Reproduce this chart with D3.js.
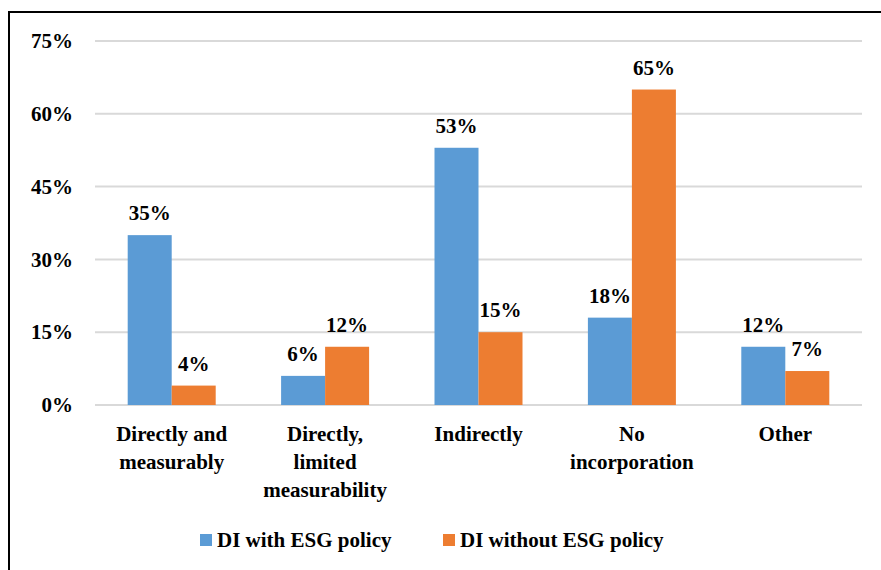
<!DOCTYPE html>
<html><head><meta charset="utf-8">
<script src="https://cdn.jsdelivr.net/npm/d3@7"></script>
</head><body style="margin:0">
<svg id="c" width="881" height="570" style="display:block;font-family:'Liberation Serif';font-weight:bold;font-size:21px"></svg>
<script>
const categories = [["Directly and","measurably"],["Directly,","limited","measurability"],["Indirectly"],["No","incorporation"],["Other"]];
const seriesNames = ["DI with ESG policy","DI without ESG policy"];
const withPolicy = [35, 6, 53, 18, 12];
const withoutPolicy = [4, 12, 15, 65, 7];
const yTicks = [0, 15, 30, 45, 60, 75];
const colors = ["#5B9BD5", "#ED7D31"];

(function () {
const svg = d3.select("#c");
function styleText(sel) {
  return sel.style("font-family", "'Liberation Serif'").style("font-weight", "bold").style("font-size", "21px").attr("fill", "#000");
}
svg.append("rect").attr("x", 9).attr("y", 12).attr("width", 900).attr("height", 600)
  .attr("fill", "#fff").attr("stroke", "#000").attr("stroke-width", 2);

const pLeft = 95, pRight = 862, pTop = 41, pBottom = 405;
const x = d3.scaleBand().domain(d3.range(categories.length)).range([pLeft, pRight]).padding(0);
const y = d3.scaleLinear().domain([0, 75]).range([pBottom, pTop]);
const barW = 44;

svg.append("g").selectAll("line").data(yTicks).join("line")
  .attr("x1", pLeft).attr("x2", pRight).attr("y1", d => y(d)).attr("y2", d => y(d))
  .attr("stroke", "#d9d9d9").attr("stroke-width", 2);

const yAxis = d3.axisLeft(y).tickValues(yTicks).tickFormat(d => d + "%").tickSize(0).tickPadding(22);
const ya = svg.append("g").attr("transform", `translate(${pLeft},0)`).call(yAxis);
ya.attr("font-family", null).attr("font-size", null);
ya.select(".domain").remove();
styleText(ya.selectAll("text"));

const series = [withPolicy, withoutPolicy];
series.forEach((vals, si) => {
  const g = svg.append("g");
  g.selectAll("rect").data(vals).join("rect")
    .attr("x", (d, i) => x(i) + x.bandwidth() / 2 - barW + si * barW)
    .attr("width", barW)
    .attr("y", d => y(d)).attr("height", d => y(0) - y(d))
    .attr("fill", colors[si]);
  styleText(g.selectAll("text").data(vals).join("text"))
    .attr("x", (d, i) => x(i) + x.bandwidth() / 2 - barW / 2 + si * barW)
    .attr("y", d => y(d) - 15)
    .attr("text-anchor", "middle")
    .text(d => d + "%");
});

const cg = svg.append("g");
categories.forEach((lines, i) => {
  const t = styleText(cg.append("text")).attr("text-anchor", "middle");
  lines.forEach((ln, k) => {
    t.append("tspan").attr("x", x(i) + x.bandwidth() / 2).attr("y", 441 + k * 28).text(ln);
  });
});

const legendX = [200, 443];
seriesNames.forEach((n, i) => {
  svg.append("rect").attr("x", legendX[i]).attr("y", 534).attr("width", 12).attr("height", 12).attr("fill", colors[i]);
  styleText(svg.append("text")).attr("x", legendX[i] + 17).attr("y", 547).text(n);
});
})();
</script>
</body></html>
